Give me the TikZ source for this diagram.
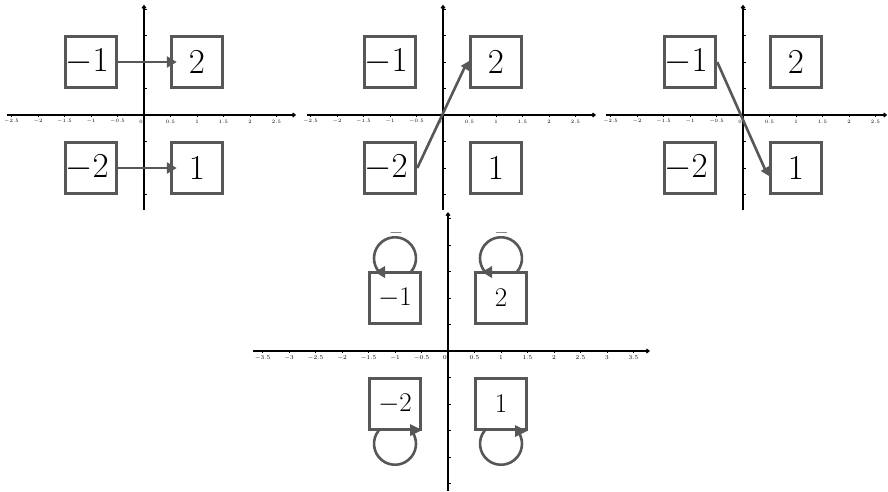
\RequirePackage{fix-cm}
\documentclass[tikz,border=0pt]{standalone}
\usetikzlibrary{arrows.meta,calc}
\definecolor{boxgray}{HTML}{575757}
\tikzset{
 axisline/.style={line width=1.2pt,black,-{Straight Barb[length=2.5pt,width=4pt]}},
 tickline/.style={line width=0.5pt,black},
 tickl/.style={inner sep=0pt},
 bx/.style={draw=boxgray,line width=3.5pt,minimum size=51pt,inner sep=0pt,fill=white},
 bigt/.style={font=\fontsize{35}{35}\selectfont},
 smallt/.style={font=\fontsize{27}{27}\selectfont},
 conn/.style={draw=boxgray,line width=2.6pt},
 headfill/.style={fill=boxgray},
 bartext/.style={text=boxgray,inner sep=0pt,font=\fontsize{18}{18}\selectfont},
}
\newcommand\myaxes[8]{%
 \draw[axisline] (#2,0) -- (#3,0);
 \draw[axisline] (0,#4) -- (0,#5);
 \foreach \t [count=\i] in {#6} {
   \draw[tickline] (\t,0) -- ++(0,-2pt);
   \node[tickl,font=\fontsize{#8}{#8}\selectfont,yshift=-6.5pt] (#1x\i) at (\t,0) {$\t$};
 }
 \foreach \t in {#7} { \draw[tickline] (0,\t) -- ++(2.5pt,0); }
 \node[tickl,font=\fontsize{#8}{#8}\selectfont,xshift=-3pt,yshift=-6.5pt] (#1z) at (0,0) {$0$};
}
\newcommand\lefthead[1]{\fill[headfill] #1 -- ++(10pt,6pt) -- ++(0,-12pt) -- cycle;}
\newcommand\righthead[1]{\fill[headfill] #1 -- ++(-12pt,6pt) -- ++(0,-12pt) -- cycle;}
\begin{document}
\begin{tikzpicture}[x=1pt,y=-1pt]
\useasboundingbox (0,0) rectangle (888,491);
\fill[white] (0,0) rectangle (888,491);

% panel 1
\begin{scope}[xshift=144pt,yshift=-115pt,x=53pt,y=53pt]
 \myaxes{a}{-2.585}{2.87}{-1.79}{2.08}{-2.5,-2,-1.5,-1,-0.5,0.5,1,1.5,2,2.5}{-1.5,-1,-0.5,0.5,1,1.5,2}{5}
 \node[bx,bigt] (p1a) at (-1,1) {\hspace*{-8pt}$-1$};
 \node[bx,bigt] (p1b) at (1,1) {$2$};
 \node[bx,bigt] (p1c) at (-1,-1) {\hspace*{-8pt}$-2$};
 \node[bx,bigt] (p1d) at (1,-1) {$1$};
 \draw[conn,-{Triangle[length=10pt,width=11pt]}] (p1a.east) -- ([xshift=7pt]p1b.west);
 \draw[conn,-{Triangle[length=10pt,width=11pt]}] (p1c.east) -- ([xshift=7pt]p1d.west);
\end{scope}

% panel 2
\begin{scope}[xshift=443pt,yshift=-115pt,x=53pt,y=53pt]
 \myaxes{b}{-2.566}{2.887}{-1.79}{2.08}{-2.5,-2,-1.5,-1,-0.5,0.5,1,1.5,2,2.5}{-1.5,-1,-0.5,0.5,1,1.5,2}{5}
 \node[bx,bigt] (p2a) at (-1,1) {\hspace*{-8pt}$-1$};
 \node[bx,bigt] (p2b) at (1,1) {$2$};
 \node[bx,bigt] (p2c) at (-1,-1) {\hspace*{-8pt}$-2$};
 \node[bx,bigt] (p2d) at (1,-1) {$1$};
 \draw[conn] (p2c.east) -- ([xshift=-3pt,yshift=-3pt]p2b.west);
 \lefthead{([xshift=-8pt,yshift=-4pt]p2b.west)}
\end{scope}

% panel 3
\begin{scope}[xshift=743pt,yshift=-115pt,x=53pt,y=53pt]
 \myaxes{c}{-2.585}{2.72}{-1.79}{2.08}{-2.5,-2,-1.5,-1,-0.5,0.5,1,1.5,2,2.5}{-1.5,-1,-0.5,0.5,1,1.5,2}{5}
 \node[bx,bigt] (p3a) at (-1,1) {\hspace*{-8pt}$-1$};
 \node[bx,bigt] (p3b) at (1,1) {$2$};
 \node[bx,bigt] (p3c) at (-1,-1) {\hspace*{-8pt}$-2$};
 \node[bx,bigt] (p3d) at (1,-1) {$1$};
 \draw[conn] (p3a.east) -- ([xshift=-3pt,yshift=-3pt]p3d.west);
 \lefthead{([xshift=-8pt,yshift=-3pt]p3d.west)}
\end{scope}

% panel 4
\begin{scope}[xshift=448pt,yshift=-351pt,x=53pt,y=53pt]
 \myaxes{d}{-3.68}{3.81}{-2.64}{2.62}{-3.5,-3,-2.5,-2,-1.5,-1,-0.5,0.5,1,1.5,2,2.5,3,3.5}{-2.5,-2,-1.5,-1,-0.5,0.5,1,1.5,2,2.5}{6}
 \node[bx,smallt] (p4a) at (-1,1) {$-1$};
 \node[bx,smallt] (p4b) at (1,1) {$2$};
 \node[bx,smallt] (p4c) at (-1,-1) {$-2$};
 \node[bx,smallt] (p4d) at (1,-1) {$1$};
 \coordinate (q1) at ($(p4a.center)+(0,0.75)$);
 \coordinate (q2) at ($(p4b.center)+(0,0.75)$);
 \coordinate (q3) at ($(p4c.center)+(0,-0.75)$);
 \coordinate (q4) at ($(p4d.center)+(0,-0.75)$);
 \draw[conn] ($(q1)+(-39.1:21pt)$) arc[start angle=-39.1,end angle=219.1,radius=21pt];
 \draw[conn] ($(q2)+(-39.1:21pt)$) arc[start angle=-39.1,end angle=219.1,radius=21pt];
 \draw[conn] ($(q3)+(140.9:21pt)$) arc[start angle=140.9,end angle=399.1,radius=21pt];
 \draw[conn] ($(q4)+(140.9:21pt)$) arc[start angle=140.9,end angle=399.1,radius=21pt];
 \lefthead{([xshift=-20pt,yshift=26pt]p4a.center)}
 \lefthead{([xshift=-19pt,yshift=26pt]p4b.center)}
 \righthead{([xshift=27pt,yshift=-26pt]p4c.center)}
 \righthead{([xshift=26pt,yshift=-27pt]p4d.center)}
 \node[bartext] (m1) at ([xshift=1pt,yshift=65pt]p4a.center) {$-$};
 \node[bartext] (m2) at ([xshift=0.5pt,yshift=65pt]p4b.center) {$-$};
\end{scope}
\end{tikzpicture}
\end{document}
